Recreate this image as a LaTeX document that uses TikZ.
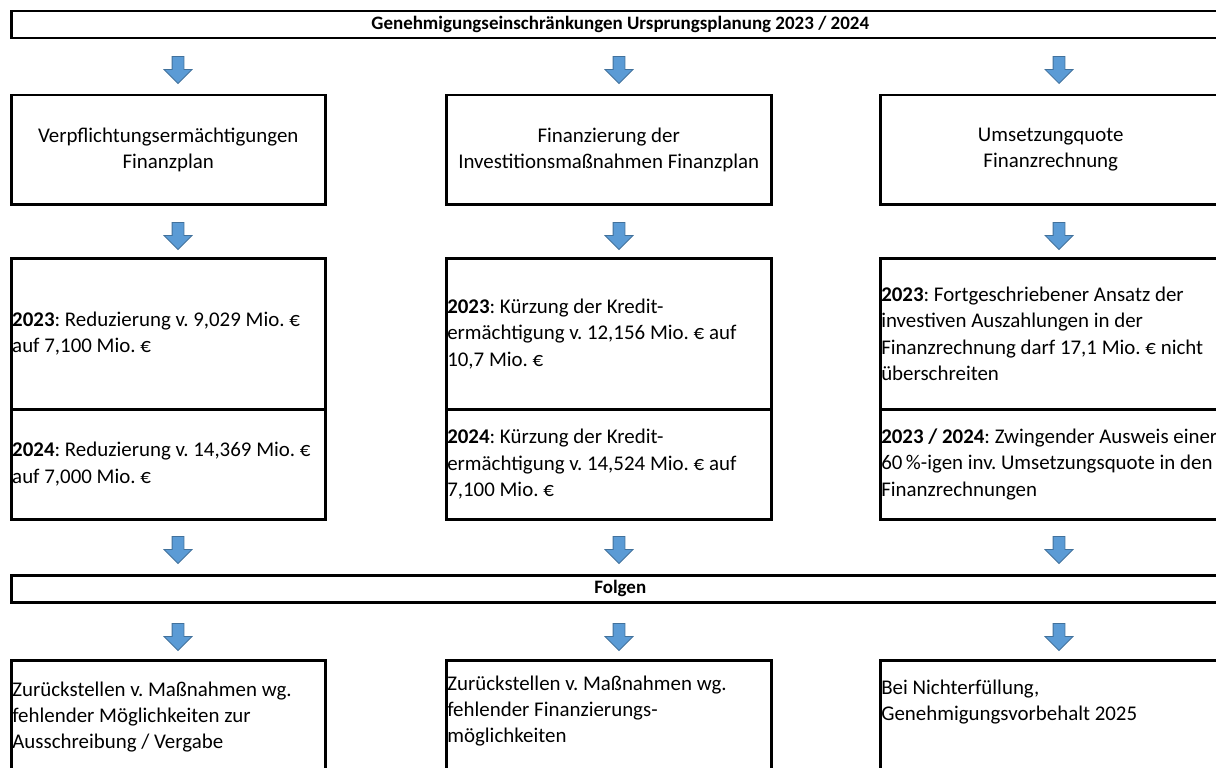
\documentclass[tikz,border=0pt]{standalone}
\usepackage{fontspec}
\setmainfont{Carlito}
\usetikzlibrary{shapes.arrows}
\newlength\pxl
\setlength\pxl{0.02cm}
\definecolor{arrowfill}{HTML}{5B9BD5}
\definecolor{arrowline}{HTML}{41719C}
\newcommand\cellfont{\fontsize{11.9pt}{15pt}\selectfont\frenchspacing}
\newcommand\barfont{\fontsize{10.8pt}{13pt}\selectfont\bfseries}
\begin{document}
\begin{tikzpicture}[x=0.02cm,y=-0.02cm,
  cell/.style={draw,line width=2.5\pxl,anchor=north west,inner xsep=1\pxl,inner ysep=0pt,font=\cellfont},
  bar/.style={cell,minimum width=1218\pxl,minimum height=27\pxl,font=\barfont},
  down/.style={single arrow,shape border rotate=270,fill=arrowfill,draw=arrowline,line width=0.8\pxl,
    inner sep=5.5\pxl,minimum width=0pt,minimum height=27\pxl,single arrow head extend=8\pxl},
  txt/.style={anchor=west,align=flush left,inner sep=0pt,font=\cellfont}]
\useasboundingbox (0,0) rectangle (1216,767);
\clip (0,0) rectangle (1216,767);
%\draw[very thin,color=gray,step=50] (0,0) grid (1216,767);
\node[bar] (titel) at (10,10) {Genehmigungseinschränkungen Ursprungsplanung 2023 / 2024};
\node[down] (a11) at (178,67) {};
\node[down] (a12) at (619,67) {};
\node[down] (a13) at (1059,67) {};
\node[cell,align=center,minimum width=314\pxl,minimum height=109\pxl] (plan1) at (10,94) {Verpflichtungsermächtigungen\\Finanzplan};
\node[cell,align=center,minimum width=325\pxl,minimum height=109\pxl] (plan2) at (445,94) {Finanzierung der\\Investitionsmaßnahmen Finanzplan};
\node[cell,align=center,minimum width=341\pxl,minimum height=109\pxl] (plan3) at (879,94) {Umsetzungquote\\Finanzrechnung};
\node[down] (a21) at (178,233) {};
\node[down] (a22) at (619,233) {};
\node[down] (a23) at (1059,233) {};
\node[cell,text width=312\pxl,align=flush left,minimum height=151\pxl] (j1a) at (10,257) {\textbf{2023}: Reduzierung v. 9,029 Mio. €\\auf 7,100 Mio. €};
\node[cell,text width=312\pxl,align=flush left,minimum height=110\pxl] (j1b) at (10,408) {\textbf{2024}: Reduzierung v. 14,369 Mio. €\\auf 7,000 Mio. €};
\node[cell,text width=323\pxl,align=flush left,minimum height=151\pxl] (j2a) at (445,257) {\textbf{2023}: Kürzung der Kredit-\\ermächtigung v. 12,156 Mio. € auf\\10,7 Mio. €};
\node[cell,text width=323\pxl,align=flush left,minimum height=110\pxl] (j2b) at (445,408) {\textbf{2024}: Kürzung der Kredit-\\ermächtigung v. 14,524 Mio. € auf\\7,100 Mio. €};
\node[cell,text width=350\pxl,align=flush left,minimum height=151\pxl] (j3a) at (879,257) {\textbf{2023}: Fortgeschriebener Ansatz der\\investiven Auszahlungen in der\\Finanzrechnung darf 17,1 Mio. € nicht\\überschreiten};
\node[cell,text width=350\pxl,align=flush left,minimum height=110\pxl] (j3b) at (879,408) {\textbf{2023 / 2024}: Zwingender Ausweis einer\\60\,\%-igen inv. Umsetzungsquote in den\\Finanzrechnungen};
\node[down] (a31) at (178,547) {};
\node[down] (a32) at (619,547) {};
\node[down] (a33) at (1059,547) {};
\node[bar] (folgen) at (10,574) {Folgen};
\node[down] (a41) at (178,634) {};
\node[down] (a42) at (619,634) {};
\node[down] (a43) at (1059,634) {};
\node[cell,minimum width=314\pxl,minimum height=150\pxl] (fol1) at (10,659) {};
\node[cell,minimum width=325\pxl,minimum height=150\pxl] (fol2) at (445,659) {};
\node[cell,minimum width=341\pxl,minimum height=150\pxl] (fol3) at (879,659) {};
\node[txt] (fol1txt) at (12,717) {Zurückstellen v. Maßnahmen wg.\\fehlender Möglichkeiten zur\\Ausschreibung / Vergabe};
\node[txt] (fol2txt) at (447,711) {Zurückstellen v. Maßnahmen wg.\\fehlender Finanzierungs-\\möglichkeiten};
\node[txt] (fol3txt) at (881,702) {Bei Nichterfüllung,\\Genehmigungsvorbehalt 2025};
\end{tikzpicture}
\end{document}
